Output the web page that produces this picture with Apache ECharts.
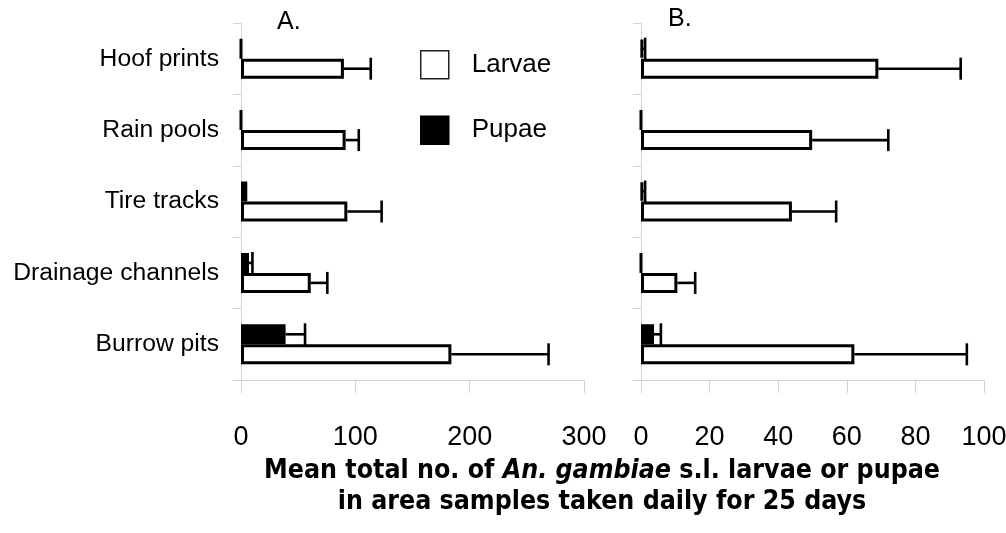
<!DOCTYPE html>
<html>
<head>
<meta charset="utf-8">
<script src="https://cdn.jsdelivr.net/npm/echarts@6/dist/echarts.min.js"></script>
<style>
  html, body { margin: 0; padding: 0; background: #fff; }
  #chart { width: 1006px; height: 533px; }
</style>
</head>
<body>
<div id="chart"></div>
<script>
// ---- data ----
const categories = ['Hoof prints', 'Rain pools', 'Tire tracks', 'Drainage channels', 'Burrow pits'];

// Panel A
const larvaeA = [90, 91.5, 93, 61, 184];
const larvaeErrA = [23.5, 11.5, 30, 14.5, 85];
const pupaeA = [0, 0, 5.5, 7, 39];
const pupaeErrA = [0, 0, 0, 3, 17];

// Panel B
const larvaeB = [69.2, 49.9, 44, 10.6, 62.2];
const larvaeErrB = [24, 22.2, 12.9, 5.2, 32.8];
const pupaeB = [0.5, 0, 0.5, 0, 3.8];
const pupaeErrB = [0.7, 0, 0.7, 0, 2];

const xTicksA = { min: 0, max: 300, interval: 100 };
const xTicksB = { min: 0, max: 100, interval: 20 };

const panelLabels = ['A.', 'B.'];
const xTitleLine1a = 'Mean total no. of ';
const xTitleItalic = 'An. gambiae';
const xTitleLine1b = ' s.l. larvae or pupae';
const xTitleLine2 = 'in area samples taken daily for 25 days';

// ---- chart ----
const cond = "'DejaVu Sans Condensed', sans-serif";
const sans = "'Liberation Sans', Arial, sans-serif";
const BAR_FRAC = 0.28; // bar thickness as fraction of category band

function errData(vals, errs) {
  return vals.map((v, i) => [v, i, errs[i]]);
}

function errRender(sign) {
  return function (params, api) {
    const v = api.value(0), cat = api.value(1), e = api.value(2);
    if (!e) return null;
    const band = api.size([0, 1])[1];
    const bw = band * BAR_FRAC;
    const p0 = api.coord([v, cat]);
    const p1 = api.coord([v + e, cat]);
    const y = p0[1] + sign * bw / 2;
    const style = { stroke: '#000', lineWidth: 2.6 };
    return {
      type: 'group',
      children: [
        { type: 'line', shape: { x1: p0[0], y1: y, x2: p1[0], y2: y }, style },
        { type: 'line', shape: { x1: p1[0], y1: y - bw / 2 - 1, x2: p1[0], y2: y + bw / 2 + 1 }, style }
      ]
    };
  };
}

const yAxisBase = {
  type: 'category',
  data: categories,
  inverse: true,
  axisLine: { show: true, lineStyle: { color: '#d4d4d4', width: 1 } },
  axisTick: { show: true, length: 8, lineStyle: { color: '#d4d4d4' } },
  splitLine: { show: false }
};

const xAxisBase = {
  type: 'value',
  axisLine: { show: true, lineStyle: { color: '#d4d4d4', width: 1 } },
  axisTick: { show: true, length: 13, lineStyle: { color: '#d4d4d4' } },
  splitLine: { show: false },
  axisLabel: { color: '#000', fontFamily: sans, fontSize: 27, margin: 44 }
};

const barBase = {
  type: 'bar',
  barWidth: (BAR_FRAC * 100) + '%',
  barGap: '0%',
  animation: false
};

const larvaeStyle = { color: '#fff', borderColor: '#000', borderWidth: 3 };
const pupaeStyle = { color: '#000', borderColor: '#000', borderWidth: 3 };

const titleStyle = { fontFamily: sans, fontSize: 25, fontWeight: 'normal', color: '#000' };

const option = {
  animation: false,
  backgroundColor: '#fff',
  title: [
    { text: panelLabels[0], left: 277, top: 10, padding: 0, textStyle: titleStyle },
    { text: panelLabels[1], left: 668, top: 7, padding: 0, textStyle: titleStyle },
    {
      text: '{b|' + xTitleLine1a + '}{i|' + xTitleItalic + '}{b|' + xTitleLine1b + '}\n{b|' + xTitleLine2 + '}',
      left: 602, top: 456, padding: 0, textAlign: 'center',
      textStyle: {
        lineHeight: 31,
        rich: {
          b: { fontFamily: cond, fontSize: 26.5, fontWeight: 'bold', color: '#000', lineHeight: 31 },
          i: { fontFamily: cond, fontSize: 26.5, fontWeight: 'bold', fontStyle: 'italic', color: '#000', lineHeight: 31 }
        }
      }
    }
  ],
  legend: {
    orient: 'vertical',
    left: 420, top: 50, padding: 0,
    itemWidth: 28, itemHeight: 28, itemGap: 36,
    icon: 'rect',
    textStyle: { fontFamily: sans, fontSize: 26, color: '#000', padding: [0, 0, 0, 18] },
    data: [
      { name: 'Larvae', itemStyle: { color: '#fff', borderColor: '#222', borderWidth: 1.5 } },
      { name: 'Pupae', itemStyle: { color: '#000', borderColor: '#000', borderWidth: 1.5 } }
    ]
  },
  grid: [
    { left: 241, width: 343, top: 23, height: 357, outerBoundsMode: 'none', containLabel: false },
    { left: 641, width: 343, top: 23, height: 357, outerBoundsMode: 'none', containLabel: false }
  ],
  xAxis: [
    Object.assign({}, xAxisBase, { gridIndex: 0 }, xTicksA),
    Object.assign({}, xAxisBase, { gridIndex: 1 }, xTicksB)
  ],
  yAxis: [
    Object.assign({}, yAxisBase, { gridIndex: 0, axisLabel: { color: '#000', fontFamily: sans, fontSize: 24.7, margin: 22 } }),
    Object.assign({}, yAxisBase, { gridIndex: 1, axisLabel: { show: false } })
  ],
  series: [
    Object.assign({}, barBase, { name: 'Pupae', xAxisIndex: 0, yAxisIndex: 0, data: pupaeA, itemStyle: pupaeStyle }),
    Object.assign({}, barBase, { name: 'Larvae', xAxisIndex: 0, yAxisIndex: 0, data: larvaeA, itemStyle: larvaeStyle }),
    Object.assign({}, barBase, { name: 'Pupae', xAxisIndex: 1, yAxisIndex: 1, data: pupaeB, itemStyle: pupaeStyle }),
    Object.assign({}, barBase, { name: 'Larvae', xAxisIndex: 1, yAxisIndex: 1, data: larvaeB, itemStyle: larvaeStyle }),
    { type: 'custom', name: 'errPA', xAxisIndex: 0, yAxisIndex: 0, z: 5, silent: true, encode: { x: 0, y: 1 }, renderItem: errRender(-1), data: errData(pupaeA, pupaeErrA) },
    { type: 'custom', name: 'errLA', xAxisIndex: 0, yAxisIndex: 0, z: 5, silent: true, encode: { x: 0, y: 1 }, renderItem: errRender(1), data: errData(larvaeA, larvaeErrA) },
    { type: 'custom', name: 'errPB', xAxisIndex: 1, yAxisIndex: 1, z: 5, silent: true, encode: { x: 0, y: 1 }, renderItem: errRender(-1), data: errData(pupaeB, pupaeErrB) },
    { type: 'custom', name: 'errLB', xAxisIndex: 1, yAxisIndex: 1, z: 5, silent: true, encode: { x: 0, y: 1 }, renderItem: errRender(1), data: errData(larvaeB, larvaeErrB) }
  ]
};

const chart = echarts.init(document.getElementById('chart'), null, { renderer: 'canvas' });
chart.setOption(option);
</script>
</body>
</html>
